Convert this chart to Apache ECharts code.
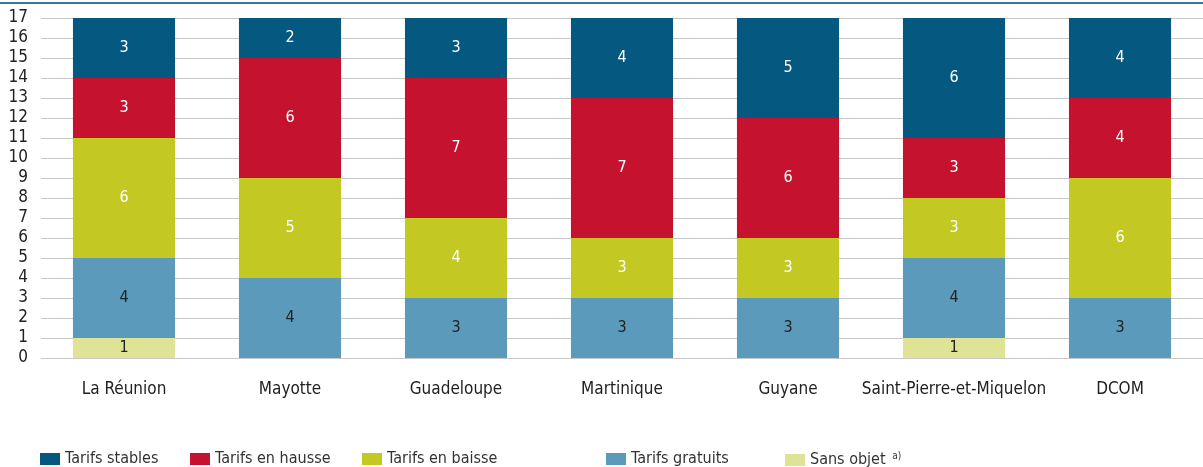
<!DOCTYPE html>
<html>
<head>
<meta charset="utf-8">
<script src="https://cdn.jsdelivr.net/npm/echarts@6/dist/echarts.min.js"></script>
<style>
  html, body { margin: 0; padding: 0; background: #fff; }
  #chart { width: 1203px; height: 467px; }
</style>
</head>
<body>
<div id="chart"></div>
<script>
const categories = ['La Réunion', 'Mayotte', 'Guadeloupe', 'Martinique', 'Guyane', 'Saint-Pierre-et-Miquelon', 'DCOM'];
const sansObjet = [1, null, null, null, null, 1, null];
const tarifsGratuits = [4, 4, 3, 3, 3, 4, 3];
const tarifsBaisse = [6, 5, 4, 3, 3, 3, 6];
const tarifsHausse = [3, 6, 7, 7, 6, 3, 4];
const tarifsStables = [3, 2, 3, 4, 5, 6, 4];
const yTicks = [0, 17, 1];

const FONT = '"DejaVu Sans Condensed", "Liberation Sans Narrow", "Liberation Sans", sans-serif';

const seriesDefs = [
  { name: 'Sans objet', data: sansObjet, color: '#dfe396', text: '#222' },
  { name: 'Tarifs gratuits', data: tarifsGratuits, color: '#5b9aba', text: '#222' },
  { name: 'Tarifs en baisse', data: tarifsBaisse, color: '#c3c922', text: '#fff' },
  { name: 'Tarifs en hausse', data: tarifsHausse, color: '#c4122f', text: '#fff' },
  { name: 'Tarifs stables', data: tarifsStables, color: '#05587f', text: '#fff' }
];

const legendSlots = [
  { name: 'Tarifs stables', left: 40 },
  { name: 'Tarifs en hausse', left: 190 },
  { name: 'Tarifs en baisse', left: 362 },
  { name: 'Tarifs gratuits', left: 606 },
  { name: 'Sans objet', left: 785 }
];

const chart = echarts.init(document.getElementById('chart'), null, { renderer: 'canvas' });
chart.setOption({
  animation: false,
  textStyle: { fontFamily: FONT },
  graphic: [{
    type: 'line',
    shape: { x1: 0, y1: 3, x2: 1203, y2: 3 },
    style: { stroke: '#3a749c', lineWidth: 2 }
  }],
  grid: { left: 41, right: 0, top: 18, bottom: 109 },
  legend: legendSlots.map(s => ({
    data: [s.name],
    left: s.left,
    top: 451,
    padding: 0,
    icon: 'rect',
    itemWidth: 20,
    itemHeight: 12,
    itemGap: 0,
    textStyle: {
      fontFamily: FONT, fontSize: 16, color: '#333',
      rich: { sup: { fontSize: 10, verticalAlign: 'top', padding: [0, 0, 8, 2], fontFamily: FONT, color: '#333' } }
    },
    formatter: n => n === 'Sans objet' ? n + ' {sup|a)}' : n,
    selectedMode: false
  })),
  xAxis: {
    type: 'category',
    data: categories,
    axisTick: { show: false },
    axisLine: { lineStyle: { color: '#c8c8c8', width: 1 } },
    axisLabel: { fontFamily: FONT, fontSize: 17, color: '#222', margin: 23, interval: 0 }
  },
  yAxis: {
    type: 'value',
    min: yTicks[0],
    max: yTicks[1],
    interval: yTicks[2],
    axisLine: { show: false },
    axisTick: { show: false },
    axisLabel: { fontFamily: FONT, fontSize: 17, color: '#222', margin: 13 },
    splitLine: { lineStyle: { color: '#c8c8c8', width: 1 } }
  },
  series: seriesDefs.map(s => ({
    name: s.name,
    type: 'bar',
    stack: 'total',
    data: s.data,
    barWidth: '61.5%',
    itemStyle: { color: s.color },
    label: {
      show: true,
      position: 'inside',
      color: s.text,
      fontFamily: FONT,
      fontSize: 16
    }
  }))
});
</script>
</body>
</html>
